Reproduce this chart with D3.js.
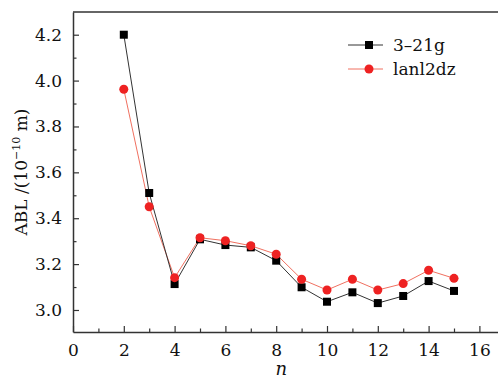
<!DOCTYPE html>
<html>
<head>
<meta charset="utf-8">
<script src="https://cdn.jsdelivr.net/npm/d3@7"></script>
<style>
  body { margin: 0; background: #fff; }
  svg { display: block; font-family: "DejaVu Serif", serif; }
</style>
</head>
<body>
<div id="chart"></div>
<script>
const nValues = [2, 3, 4, 5, 6, 7, 8, 9, 10, 11, 12, 13, 14, 15];
const abl321g = [4.20, 3.51, 3.113, 3.308, 3.283, 3.273, 3.215, 3.099, 3.036, 3.077, 3.03, 3.061, 3.126, 3.083];
const ablLanl2dz = [3.962, 3.45, 3.141, 3.315, 3.302, 3.28, 3.243, 3.134, 3.087, 3.134, 3.087, 3.115, 3.173, 3.138];
const xTicks = [0, 2, 4, 6, 8, 10, 12, 14, 16];
const yTicks = [3.0, 3.2, 3.4, 3.6, 3.8, 4.0, 4.2];
const seriesNames = ['3\u201321g', 'lanl2dz'];

const width = 498, height = 379;
const margin = { top: 12, left: 73, bottom: 47 };

const svg = d3.select('#chart')
  .append('svg')
  .attr('width', width)
  .attr('height', height);

const x = d3.scaleLinear()
  .domain([0, 17])
  .range([margin.left, margin.left + 17 * 25.4]);

const y = d3.scaleLinear()
  .domain([2.904, 4.299])
  .range([height - margin.bottom, margin.top]);

const axisColor = '#333';
const textColor = '#111';

// frame (top border, right side runs off the picture)
svg.append('line')
  .attr('x1', margin.left).attr('x2', width)
  .attr('y1', margin.top).attr('y2', margin.top)
  .attr('stroke', axisColor).attr('stroke-width', 1.5);

// x axis, ticks pointing inward
const xAxis = svg.append('g')
  .attr('transform', `translate(0,${height - margin.bottom})`)
  .call(d3.axisBottom(x).tickValues(xTicks).tickSizeInner(-6).tickSizeOuter(0).tickPadding(12));
xAxis.selectAll('.tick text')
  .attr('fill', textColor)
  .attr('font-size', '17px')
  .attr('font-family', '"DejaVu Serif", serif');
xAxis.call(g => g.select('.domain').attr('stroke', axisColor).attr('stroke-width', 1.5));
xAxis.selectAll('.tick line').attr('stroke', axisColor).attr('stroke-width', 1.2);

svg.append('g')
  .attr('transform', `translate(0,${height - margin.bottom})`)
  .call(d3.axisBottom(x).tickValues(d3.range(1, 17, 2)).tickSizeInner(-3.5).tickSizeOuter(0).tickFormat(() => ''))
  .call(g => g.select('.domain').remove())
  .selectAll('line').attr('stroke', axisColor).attr('stroke-width', 1.2);

// y axis
const yAxis = svg.append('g')
  .attr('transform', `translate(${margin.left},0)`)
  .call(d3.axisLeft(y).tickValues(yTicks).tickFormat(d3.format('.1f')).tickSizeInner(-6).tickSizeOuter(0).tickPadding(11));
yAxis.selectAll('.tick text')
  .attr('fill', textColor)
  .attr('font-size', '17px')
  .attr('font-family', '"DejaVu Serif", serif');
yAxis.call(g => g.select('.domain').attr('stroke', axisColor).attr('stroke-width', 1.5));
yAxis.selectAll('.tick line').attr('stroke', axisColor).attr('stroke-width', 1.2);

svg.append('g')
  .attr('transform', `translate(${margin.left},0)`)
  .call(d3.axisLeft(y).tickValues([3.1, 3.3, 3.5, 3.7, 3.9, 4.1]).tickSizeInner(-3.5).tickSizeOuter(0).tickFormat(() => ''))
  .call(g => g.select('.domain').remove())
  .selectAll('line').attr('stroke', axisColor).attr('stroke-width', 1.2);

// axis titles
const yTitle = svg.append('text')
  .attr('transform', `translate(27,${(margin.top + height - margin.bottom) / 2}) rotate(-90)`)
  .attr('text-anchor', 'middle')
  .attr('fill', textColor)
  .attr('font-size', '17px');
yTitle.append('tspan').text('ABL /(10');
yTitle.append('tspan').attr('dy', -7).attr('font-size', '11px').text('\u221210');
yTitle.append('tspan').attr('dy', 7).text(' m)');

svg.append('text')
  .attr('x', x(8.2))
  .attr('y', 375)
  .attr('text-anchor', 'middle')
  .attr('font-style', 'italic')
  .attr('fill', textColor)
  .attr('font-size', '18px')
  .text('n');

// series
const line = d3.line()
  .x(d => x(d[0]))
  .y(d => y(d[1]));

const black = nValues.map((n, i) => [n, abl321g[i]]);
const red = nValues.map((n, i) => [n, ablLanl2dz[i]]);

svg.append('path')
  .datum(red)
  .attr('d', line)
  .attr('fill', 'none')
  .attr('stroke', '#f07060')
  .attr('stroke-width', 1);

svg.append('path')
  .datum(black)
  .attr('d', line)
  .attr('fill', 'none')
  .attr('stroke', '#333')
  .attr('stroke-width', 1);

svg.selectAll('.sq')
  .data(black)
  .enter()
  .append('rect')
  .attr('class', 'sq')
  .attr('x', d => x(d[0]) - 4)
  .attr('y', d => y(d[1]) - 4)
  .attr('width', 8)
  .attr('height', 8)
  .attr('fill', '#000');

svg.selectAll('.dot')
  .data(red)
  .enter()
  .append('circle')
  .attr('class', 'dot')
  .attr('cx', d => x(d[0]))
  .attr('cy', d => y(d[1]))
  .attr('r', 4.5)
  .attr('fill', '#ee2222');

// legend
const legend = svg.append('g').attr('transform', 'translate(348,45)');
legend.append('line').attr('x1', 0).attr('x2', 35).attr('y1', 0).attr('y2', 0)
  .attr('stroke', '#333').attr('stroke-width', 1);
legend.append('rect').attr('x', 17).attr('y', -4).attr('width', 8).attr('height', 8).attr('fill', '#000');
legend.append('text').attr('x', 45).attr('y', 6).attr('font-size', '17px').attr('fill', textColor).text(seriesNames[0]);

legend.append('line').attr('x1', 0).attr('x2', 35).attr('y1', 24).attr('y2', 24)
  .attr('stroke', '#f07060').attr('stroke-width', 1);
legend.append('circle').attr('cx', 21).attr('cy', 24).attr('r', 4.5).attr('fill', '#ee2222');
legend.append('text').attr('x', 45).attr('y', 30).attr('font-size', '17px').attr('fill', textColor).text(seriesNames[1]);
</script>
</body>
</html>
